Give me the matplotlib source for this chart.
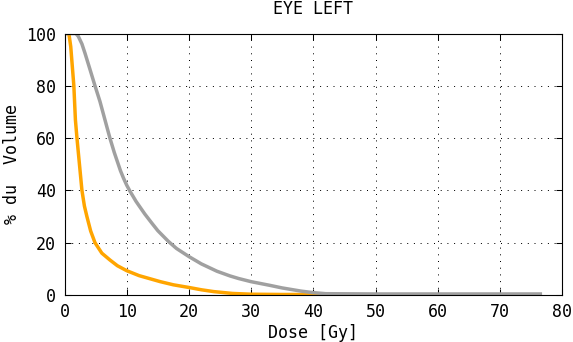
import matplotlib
matplotlib.use("Agg")
import matplotlib.pyplot as plt

# dose (Gy) / % volume
gray_dose = [0, 1.8, 2.2, 2.8, 3.3, 4.0, 4.9, 5.7, 6.5, 7.3, 8.0, 8.5, 9.0, 9.5,
             10.0, 10.5, 11.5, 12.9, 14.0, 15.0, 16.7, 18.0, 20.0, 22.0, 24.5,
             26.6, 28.0, 30.0, 33.0, 35.0, 38.0, 40.0, 42.0, 50.0, 60.0, 70.0, 76.5]
gray_vol = [100, 100, 99, 96, 92.4, 87, 80, 74, 67, 60, 54.5, 51, 47.5, 44.6,
            42, 39.8, 35.8, 31, 27.6, 24.6, 20.5, 17.8, 14.7, 11.9, 9.1,
            7.3, 6.3, 5.1, 3.7, 2.7, 1.5, 0.9, 0.5, 0.4, 0.4, 0.4, 0.4]

orange_dose = [0, 0.7, 1.0, 1.5, 1.75, 2.0, 2.4, 2.8, 3.2, 3.6, 4.2, 4.9, 6.0,
               7.3, 8.5, 10.0, 12.0, 15.4, 17.5, 20.2, 22.0, 24.0, 27.0, 30.0,
               35.0, 41.3]
orange_vol = [100, 100, 95, 80, 67, 60, 50, 40, 34, 30, 24.5, 20, 16,
              13.4, 11.2, 9.3, 7.4, 5.1, 3.9, 2.8, 2.0, 1.3, 0.6, 0.3,
              0.2, 0.2]

xticks = [0, 10, 20, 30, 40, 50, 60, 70, 80]
yticks = [0, 20, 40, 60, 80, 100]

plt.rcParams["font.family"] = ["DejaVu Sans Mono"]

fig = plt.figure(figsize=(5.73, 3.42), dpi=100)
ax = fig.add_axes([0.1126, 0.1374, 0.8684, 0.7646])

ax.plot(orange_dose, orange_vol, color="#FFA500", lw=2.5, solid_joinstyle="round")
ax.plot(gray_dose, gray_vol, color="#A0A0A0", lw=2.5, solid_joinstyle="round")

ax.set_xlim(0, 80)
ax.set_ylim(0, 100)
ax.set_xticks(xticks)
ax.set_yticks(yticks)
ax.tick_params(direction="in", length=4.5, width=0.75, top=True, right=True,
               labelsize=12, pad=6)
ax.grid(True, color="black", lw=0.72, linestyle=(0, (1, 5.7)))
for s in ax.spines.values():
    s.set_linewidth(0.8)

ax.set_title("EYE LEFT", fontsize=12, pad=14)
ax.set_xlabel("Dose [Gy]", fontsize=12, labelpad=2)
ax.set_ylabel("% du  Volume", fontsize=12, labelpad=4)

fig.savefig("out.png", dpi=100)
